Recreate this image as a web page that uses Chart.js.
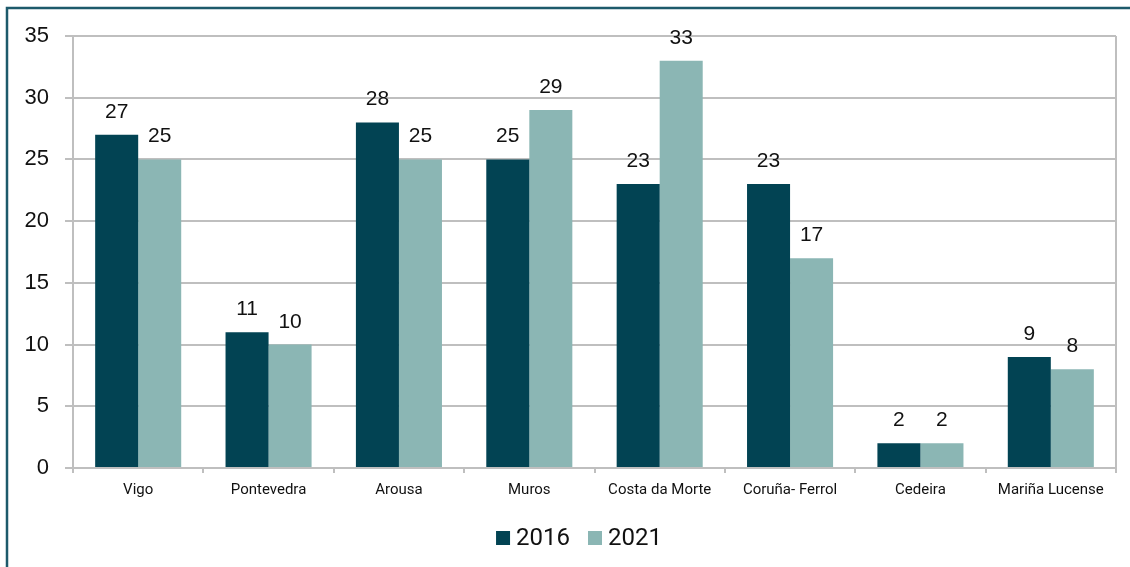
<!DOCTYPE html>
<html><head><meta charset="utf-8">
<script src="https://cdn.jsdelivr.net/npm/chart.js@4"></script>
<style>html,body{margin:0;padding:0;background:#fff}#w{width:1130px;height:567px;position:relative}</style>
</head><body><div id="w"><canvas id="c" width="1130" height="567"></canvas></div>
<script>
const categories = ["Vigo","Pontevedra","Arousa","Muros","Costa da Morte","Coruña- Ferrol","Cedeira","Mariña Lucense"];
const values2016 = [27,11,28,25,23,23,2,9];
const values2021 = [25,10,25,29,33,17,2,8];
const yTicks = [0,5,10,15,20,25,30,35];

const dark = "#024353", light = "#8bb6b4", gridC = "#bfbfbf";

const deco = {
  id:'deco',
  beforeDraw(chart){
    const c = chart.ctx;
    c.save();
    c.fillStyle = "#fff"; c.fillRect(0,0,chart.width,chart.height);
    c.strokeStyle = "#1d5a6b"; c.lineWidth = 2.5;
    c.beginPath(); c.moveTo(7,567); c.lineTo(7,8); c.lineTo(1130,8); c.stroke();
    c.restore();
  },
  afterDatasetsDraw(chart){
    const c = chart.ctx, a = chart.chartArea;
    c.save();
    c.strokeStyle = gridC; c.lineWidth = 2;
    c.beginPath(); c.moveTo(a.right, a.top); c.lineTo(a.right, a.bottom+4); c.stroke();
    // data labels
    c.font = "21px 'Liberation Sans', Arial, sans-serif"; c.fillStyle = "#111"; c.textAlign = "center"; c.textBaseline = "alphabetic";
    chart.data.datasets.forEach((ds,i)=>{
      chart.getDatasetMeta(i).data.forEach((bar,j)=>{
        c.fillText(String(ds.data[j]), bar.x, bar.y - 17);
      });
    });
    // legend
    c.font = "24px Roboto"; c.textAlign = "left";
    const box = 14, gap = 6, sep = 18;
    const items = chart.data.datasets.map(ds=>({t:ds.label, col:ds.backgroundColor, w:c.measureText(ds.label).width}));
    let total = items.reduce((s,it)=>s+box+gap+it.w,0) + sep*(items.length-1);
    let x = 579 - total/2;
    const baseY = 545;
    items.forEach(it=>{
      c.fillStyle = it.col; c.fillRect(x, 531, box, box);
      c.fillStyle = "#111"; c.fillText(it.t, x+box+gap, baseY);
      x += box+gap+it.w+sep;
    });
    c.restore();
  }
};

new Chart(document.getElementById('c'), {
  type:'bar',
  data:{labels:categories, datasets:[
    {label:"2016", data:values2016, backgroundColor:dark, categoryPercentage:0.66, barPercentage:1.0},
    {label:"2021", data:values2021, backgroundColor:light, categoryPercentage:0.66, barPercentage:1.0}
  ]},
  options:{
    responsive:false, animation:false, devicePixelRatio:1,
    layout:{padding:{left:10,right:14,top:36,bottom:0}},
    plugins:{ tooltip:{enabled:false}, legend:{display:false} },
    scales:{
      x:{
        afterFit(s){ s.height = 99; },
        grid:{offset:true, drawOnChartArea:false, drawTicks:true, tickLength:5, color:gridC, lineWidth:2},
        border:{color:gridC, width:2},
        ticks:{font:{family:"Roboto",size:15}, color:"#111", padding:8, maxRotation:0, autoSkip:false}
      },
      y:{
        min:0, max:35,
        afterBuildTicks(s){ s.ticks = yTicks.map(v=>({value:v})); },
        afterFit(s){ s.width = 63; },
        grid:{color:gridC, lineWidth:2, tickLength:8, drawTicks:true},
        border:{color:gridC, width:2},
        ticks:{font:{family:"'Liberation Sans', Arial, sans-serif",size:22}, color:"#111", padding:16}
      }
    }
  },
  plugins:[deco]
});
</script></body></html>
